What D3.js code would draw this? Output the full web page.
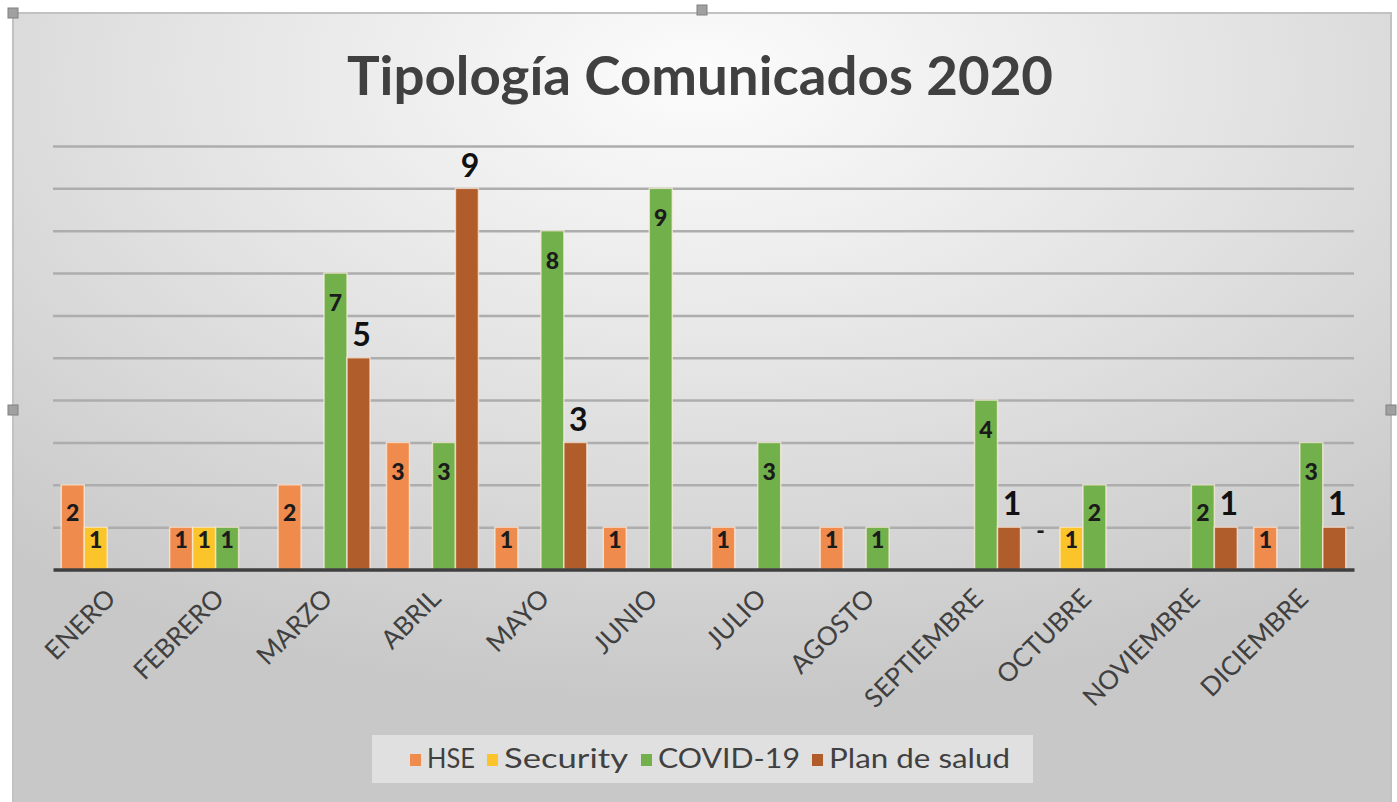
<!DOCTYPE html>
<html lang="es">
    <head>
        <meta charset="utf-8">
        <title> tipologia comunicados 2020 </title>
        <script src="https://d3js.org/d3.v7.min.js"></script>
        <style type="text/css">
        body { margin: 0; background: #ffffff; }
        text { font-family: Lato, "Open Sans", sans-serif; }
        </style>
    </head>
    <body>
    <script type="text/javascript">

  var w = 1397;
  var h = 802;

  // data
  var months = ["ENERO", "FEBRERO", "MARZO", "ABRIL", "MAYO", "JUNIO", "JULIO",
                "AGOSTO", "SEPTIEMBRE", "OCTUBRE", "NOVIEMBRE", "DICIEMBRE"];
  var series = ["HSE", "Security", "COVID-19", "Plan de salud"];

  // null = no bar, 0 = shown as "-"
  var hse      = [2, 1, 2, 3, 1, 1, 1, 1, null, 0, null, 1];
  var security = [1, 1, null, null, null, null, null, null, null, 1, null, null];
  var covid    = [null, 1, 7, 3, 8, 9, 3, 1, 4, 2, 2, 3];
  var plan     = [null, null, 5, 9, 3, null, null, null, 1, null, 1, 1];

  var yTicks = d3.range(0, 11);
  var colors = ["#ef8b4c", "#fbc42a", "#72b04b", "#b05c2b"];

  var values = [hse, security, covid, plan];

  var svg = d3.select("body")
              .append("svg")
              .attr("width", w)
              .attr("height", h);

  // background gradient like the office chart
  var defs = svg.append("defs");
  var grad = defs.append("radialGradient")
                 .attr("id", "bg")
                 .attr("cx", "50%").attr("cy", "8%")
                 .attr("r", "78%");
  grad.append("stop").attr("offset", "0%").attr("stop-color", "#fcfcfc");
  grad.append("stop").attr("offset", "50%").attr("stop-color", "#e3e3e3");
  grad.append("stop").attr("offset", "100%").attr("stop-color", "#c8c8c8");

  svg.append("rect")
     .attr("x", 13).attr("y", 13)
     .attr("width", 1378).attr("height", 800)
     .attr("fill", "url(#bg)")
     .attr("stroke", "#c2c2c2")
     .attr("stroke-width", 2);

  // scales
  var x0 = d3.scaleBand()
             .domain(months)
             .range([53, 1354]);

  var bw = x0.bandwidth();
  var x1 = d3.scaleBand()
             .domain(series)
             .range([bw * 0.076, bw * 0.924]);

  var yScale = d3.scaleLinear()
                 .domain([0, 10])
                 .range([569.5, 146]);

  // gridlines
  var gGrid = svg.append("g")
     .attr("transform", "translate(1354,0)")
     .call(d3.axisRight(yScale).tickValues(yTicks.slice(1)).tickSize(-(1354 - 53)).tickFormat(""));
  gGrid.select(".domain").remove();
  gGrid.selectAll("line")
       .attr("stroke", "#adadad")
       .attr("stroke-width", 2.5);

  // bars
  var rows = [];
  months.forEach(function(m, i){
    series.forEach(function(s, j){
      rows.push({month: m, serie: s, k: j, v: values[j][i]});
    });
  });

  var barRows = rows.filter(d => d.v != null && d.v > 0);

  svg.append("g")
     .selectAll("rect")
     .data(barRows)
     .enter()
     .append("rect")
     .attr("x", d => x0(d.month) + x1(d.serie))
     .attr("y", d => yScale(d.v))
     .attr("width", x1.bandwidth())
     .attr("height", d => yScale(0) - yScale(d.v))
     .attr("fill", d => colors[d.k])
     .attr("stroke", "rgba(255,240,225,0.7)")
     .attr("stroke-width", 1.5);

  // x axis line
  var xAxis = d3.axisBottom(x0).tickSize(0).tickFormat("");
  var gX = svg.append("g")
     .attr("transform", "translate(0," + yScale(0) + ")")
     .call(xAxis);
  gX.select(".domain")
    .attr("stroke", "#3f3f3f")
    .attr("stroke-width", 3.5);

  // month labels
  svg.append("g")
     .selectAll("text")
     .data(months)
     .enter()
     .append("text")
     .attr("transform", d => "translate(" + (x0(d) + bw / 2 + 10) + ",600) rotate(-45)")
     .attr("text-anchor", "end")
     .attr("font-size", "26px")
     .attr("fill", "#404040")
     .text(d => d);

  // labels inside the bars (HSE, Security, COVID-19)
  var inside = rows.filter(d => d.v != null && d.k < 3);
  svg.append("g")
     .selectAll("text")
     .data(inside)
     .enter()
     .append("text")
     .attr("x", d => x0(d.month) + x1(d.serie) + x1.bandwidth() / 2 + (d.v === 0 ? -8 : 0))
     .attr("y", function(d){
        if (d.v === 0) return yScale(0) - 36;
        var top = yScale(d.v);
        var hh = yScale(0) - top;
        return top + Math.min(32, hh * 0.36);
     })
     .attr("text-anchor", "middle")
     .attr("dominant-baseline", "middle")
     .attr("font-size", "23px")
     .attr("font-weight", "900")
     .attr("fill", "#1b1b1b")
     .text(d => d.v === 0 ? "-" : d.v);

  // labels above Plan de salud bars
  var outside = rows.filter(d => d.v != null && d.k == 3);
  svg.append("g")
     .selectAll("text")
     .data(outside)
     .enter()
     .append("text")
     .attr("x", d => x0(d.month) + x1(d.serie) + x1.bandwidth() / 2 + 3)
     .attr("y", d => yScale(d.v) - 20)
     .attr("text-anchor", "middle")
     .attr("dominant-baseline", "middle")
     .attr("font-size", "32px")
     .attr("font-weight", "bold")
     .attr("fill", "#111111")
     .text(d => d.v);

  // title
  svg.append("text")
     .attr("x", 700)
     .attr("y", 95)
     .attr("text-anchor", "middle")
     .attr("font-size", "54px")
     .attr("font-weight", "bold")
     .attr("fill", "#404040")
     .attr("textLength", 706)
     .attr("lengthAdjust", "spacingAndGlyphs")
     .text("Tipología Comunicados 2020");

  // legend
  svg.append("rect")
     .attr("x", 372).attr("y", 735)
     .attr("width", 661).attr("height", 48)
     .attr("fill", "#e6e6e6")
     .attr("opacity", 0.8);

  var legendX = [410, 487, 641, 812];
  var legendW = [48, 124, 142, 181];
  var lg = svg.append("g")
              .selectAll("g")
              .data(series)
              .enter()
              .append("g")
              .attr("transform", (d, i) => "translate(" + legendX[i] + ",760)");

  lg.append("rect")
    .attr("x", 0).attr("y", -6)
    .attr("width", 11).attr("height", 12)
    .attr("fill", (d, i) => colors[i]);

  lg.append("text")
    .attr("x", 17)
    .attr("y", 1)
    .attr("dominant-baseline", "middle")
    .attr("font-size", "27px")
    .attr("fill", "#404040")
    .attr("textLength", (d, i) => legendW[i])
    .attr("lengthAdjust", "spacingAndGlyphs")
    .text(d => d);

  // selection handles around the chart frame
  var handles = [[13, 13], [702, 10], [13, 410], [1391, 410]];
  svg.append("g")
     .selectAll("rect")
     .data(handles)
     .enter()
     .append("rect")
     .attr("x", d => d[0] - 5)
     .attr("y", d => d[1] - 5)
     .attr("width", 10).attr("height", 10)
     .attr("fill", "#a0a0a0")
     .attr("stroke", "#808080");

    </script>
    </body>
</html>
